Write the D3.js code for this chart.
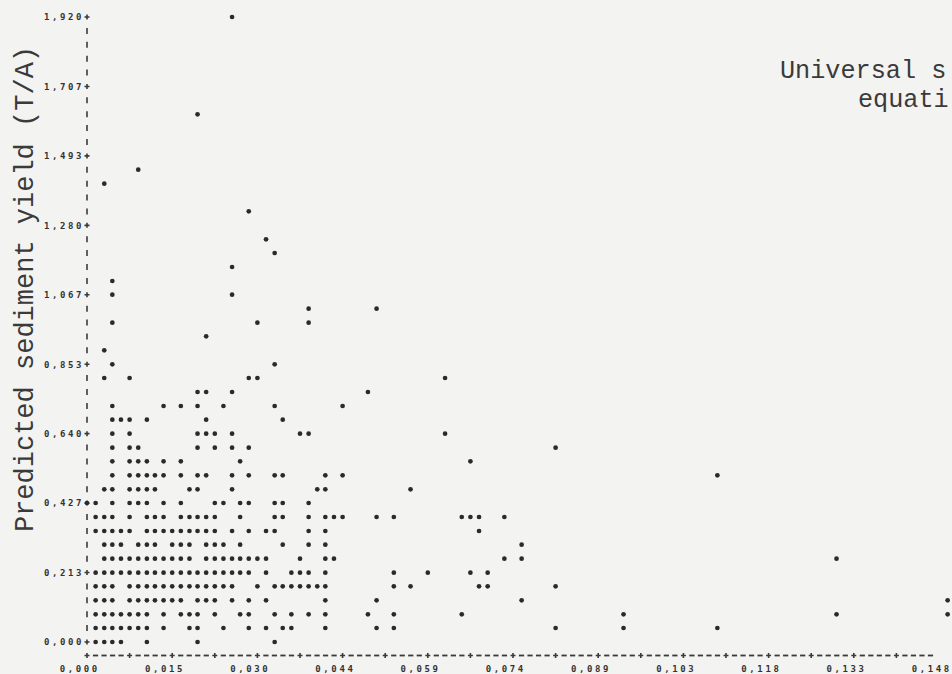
<!DOCTYPE html>
<html>
<head>
<meta charset="utf-8">
<script src="https://cdn.jsdelivr.net/npm/d3@7/dist/d3.min.js"></script>
<style>
  html, body { margin: 0; padding: 0; background: #f3f3f1; }
  svg { display: block; }
</style>
</head>
<body>
<svg id="chart" width="952" height="674"></svg>
<script>
// Axis labels as printed by the line-printer plot
const xTickValues = [0, 0.0148, 0.0296, 0.0444, 0.0592, 0.074, 0.0888, 0.1036, 0.1184, 0.1332, 0.148];
const xTickLabels = ["0,000", "0,015", "0,030", "0,044", "0,059", "0,074", "0,089", "0,103", "0,118", "0,133", "0,148"];
const yTickValues = [1.920, 1.707, 1.493, 1.280, 1.067, 0.853, 0.640, 0.427, 0.213, 0.000];
const yTickLabels = ["1,920", "1,707", "1,493", "1,280", "1,067", "0,853", "0,640", "0,427", "0,213", "0,000"];

const yTitle = "Predicted sediment yield (T/A)";
// heading runs off the right edge of the page: only this much of it is on the sheet
const titleLines = ["Universal s", "equati"];

// Predicted yield (T/A), one value per printed row that holds points
const predictedLevels = [
  1.920, 1.621, 1.451, 1.408, 1.323, 1.237, 1.195, 1.152, 1.109, 1.067,
  1.024, 0.981, 0.939, 0.896, 0.853, 0.811, 0.768, 0.725, 0.683, 0.640,
  0.597, 0.555, 0.512, 0.469, 0.427, 0.384, 0.341, 0.299, 0.256, 0.213,
  0.171, 0.128, 0.085, 0.043, 0.000
];

// Observed values plotted on each of those rows
const observedAtLevel = [
  [0.0252],
  [0.0192],
  [0.0089],
  [0.003],
  [0.0281],
  [0.0311],
  [0.0326],
  [0.0252],
  [0.0044],
  [0.0044, 0.0252],
  [0.0385, 0.0503],
  [0.0044, 0.0296, 0.0385],
  [0.0207],
  [0.003],
  [0.0044, 0.0326],
  [0.003, 0.0074, 0.0281, 0.0296, 0.0622],
  [0.0192, 0.0207, 0.0252, 0.0488],
  [0.0044, 0.0133, 0.0163, 0.0192, 0.0237, 0.0326, 0.0444],
  [0.0044, 0.0059, 0.0074, 0.0104, 0.0207, 0.034],
  [0.0044, 0.0074, 0.0192, 0.0207, 0.0222, 0.0252, 0.037, 0.0385, 0.0622],
  [0.0044, 0.0074, 0.0089, 0.0192, 0.0222, 0.0252, 0.0281, 0.0814],
  [0.0044, 0.0074, 0.0089, 0.0104, 0.0133, 0.0163, 0.0266, 0.0666],
  [0.0044, 0.0074, 0.0089, 0.0104, 0.0118, 0.0133, 0.0163, 0.0192, 0.0207, 0.0252, 0.0281, 0.0326, 0.034, 0.0414, 0.0444, 0.1095],
  [0.003, 0.0044, 0.0074, 0.0089, 0.0104, 0.0118, 0.0178, 0.0192, 0.0252, 0.04, 0.0414, 0.0562],
  [0, 0.0015, 0.0044, 0.0074, 0.0089, 0.0104, 0.0133, 0.0163, 0.0222, 0.0237, 0.0266, 0.0281, 0.0326, 0.034, 0.0385],
  [0.0015, 0.003, 0.0044, 0.0074, 0.0104, 0.0118, 0.0133, 0.0163, 0.0178, 0.0192, 0.0207, 0.0222, 0.0266, 0.0326, 0.034, 0.0385, 0.0414, 0.0429, 0.0444, 0.0503, 0.0533, 0.0651, 0.0666, 0.0681, 0.0725],
  [0.0015, 0.003, 0.0044, 0.0059, 0.0074, 0.0104, 0.0118, 0.0133, 0.0148, 0.0163, 0.0178, 0.0192, 0.0207, 0.0222, 0.0252, 0.0281, 0.0311, 0.0326, 0.0385, 0.0414, 0.0681],
  [0.003, 0.0044, 0.0059, 0.0089, 0.0104, 0.0118, 0.0148, 0.0163, 0.0178, 0.0207, 0.0222, 0.0237, 0.0266, 0.034, 0.0385, 0.0414, 0.0755],
  [0.003, 0.0044, 0.0059, 0.0074, 0.0089, 0.0104, 0.0118, 0.0133, 0.0148, 0.0163, 0.0178, 0.0207, 0.0222, 0.0237, 0.0252, 0.0266, 0.0281, 0.0296, 0.0311, 0.037, 0.0414, 0.0429, 0.0725, 0.0755, 0.1302],
  [0.0015, 0.003, 0.0044, 0.0059, 0.0074, 0.0089, 0.0104, 0.0118, 0.0133, 0.0148, 0.0163, 0.0178, 0.0192, 0.0207, 0.0222, 0.0237, 0.0252, 0.0266, 0.0281, 0.0311, 0.0355, 0.037, 0.0385, 0.0414, 0.0533, 0.0592, 0.0666, 0.0696],
  [0.0015, 0.003, 0.0044, 0.0074, 0.0089, 0.0104, 0.0118, 0.0133, 0.0148, 0.0163, 0.0178, 0.0192, 0.0207, 0.0222, 0.0237, 0.0252, 0.0296, 0.0326, 0.034, 0.0355, 0.037, 0.0385, 0.04, 0.0414, 0.0533, 0.0562, 0.0681, 0.0696, 0.0814],
  [0.0015, 0.003, 0.0044, 0.0074, 0.0089, 0.0104, 0.0118, 0.0133, 0.0148, 0.0163, 0.0192, 0.0207, 0.0222, 0.0252, 0.0281, 0.0311, 0.0414, 0.0503, 0.0755, 0.1495],
  [0.0015, 0.003, 0.0044, 0.0059, 0.0074, 0.0089, 0.0104, 0.0133, 0.0163, 0.0178, 0.0192, 0.0222, 0.0266, 0.0281, 0.0326, 0.0355, 0.0385, 0.0414, 0.0488, 0.0533, 0.0651, 0.0932, 0.1302, 0.1495],
  [0.0015, 0.003, 0.0044, 0.0059, 0.0074, 0.0089, 0.0104, 0.0133, 0.0178, 0.0192, 0.0237, 0.0281, 0.0311, 0.034, 0.0355, 0.0414, 0.0503, 0.0533, 0.0814, 0.0932, 0.1095],
  [0.0015, 0.003, 0.0044, 0.0059, 0.0104, 0.0192, 0.0326]
];

// ---- layout ----
const W = 952, H = 674;
const PRINT_COLS = 100;   // character columns across the x range
const PRINT_ROWS = 45;    // character rows across the y range
const xMax = 0.148, yMax = 1.92;

const ink = "#2a2a2a";
const svg = d3.select("#chart");

svg.append("rect").attr("width", W).attr("height", H).attr("fill", "#f3f3f1");

const x = d3.scaleLinear().domain([0, xMax]).range([87, 939]);
const y = d3.scaleLinear().domain([0, yMax]).range([642, 17]);
const colW = (x.range()[1] - x.range()[0]) / PRINT_COLS;

const points = [];
predictedLevels.forEach((lvl, i) => {
  observedAtLevel[i].forEach(v => points.push({ obs: v, pred: lvl }));
});

// ---- y axis: "|" on every printed row, "+" on labelled rows ----
const axisG = svg.append("g").attr("stroke", "#3a3a3a").attr("fill", "none");
const labelRows = new Set(yTickValues.map(v => Math.round(v / yMax * PRINT_ROWS)));
d3.range(PRINT_ROWS + 1).forEach(r => {
  const cy = y(r * yMax / PRINT_ROWS);
  const cx = x(0);
  if (labelRows.has(r)) {
    axisG.append("path").attr("d", `M${cx - 2.5},${cy}H${cx + 2.5}M${cx},${cy - 2.5}V${cy + 2.5}`).attr("stroke-width", 1.6);
  } else {
    axisG.append("path").attr("d", `M${cx},${cy - 3}V${cy + 3}`).attr("stroke-width", 1.6);
  }
});

// ---- x axis: "+----+----" printed one row below the 0 row ----
const xAxisY = y(0) + 13.5;
d3.range(PRINT_COLS).forEach(c => {
  const cx = x(c * xMax / PRINT_COLS);
  if (c % 5 === 0) {
    axisG.append("path").attr("d", `M${cx - 2.5},${xAxisY}H${cx + 2.5}M${cx},${xAxisY - 2.5}V${xAxisY + 2.5}`).attr("stroke-width", 1.6);
  } else {
    axisG.append("path").attr("d", `M${cx - 2.6},${xAxisY}H${cx + 2.6}`).attr("stroke-width", 1.8);
  }
});

// ---- tick labels ----
const tickFont = "'DejaVu Sans Mono', monospace";
svg.append("g").selectAll("text").data(yTickValues).join("text")
  .attr("x", x(0) - 3)
  .attr("y", d => y(d) + 3.2)
  .attr("text-anchor", "end")
  .attr("font-family", tickFont).attr("font-weight", "bold").attr("font-size", 9)
  .attr("letter-spacing", 2.6)
  .attr("fill", "#333")
  .text((d, i) => yTickLabels[i]);

svg.append("g").selectAll("text").data(xTickValues).join("text")
  .attr("x", d => x(d) - colW + 1.3)
  .attr("y", xAxisY + 16)
  .attr("text-anchor", "middle")
  .attr("font-family", tickFont).attr("font-weight", "bold").attr("font-size", 9)
  .attr("letter-spacing", 2.6)
  .attr("fill", "#333")
  .text((d, i) => xTickLabels[i]);

// ---- points ----
svg.append("g").selectAll("circle").data(points).join("circle")
  .attr("cx", d => x(d.obs))
  .attr("cy", d => y(d.pred))
  .attr("r", 2.35)
  .attr("fill", ink);

// ---- titles ----
const typeFont = "'Liberation Mono', 'Courier New', monospace";
svg.append("text")
  .attr("transform", `translate(33, ${(43 + 535) / 2}) rotate(-90)`)
  .attr("text-anchor", "middle")
  .attr("font-family", typeFont).attr("font-size", 27)
  .attr("fill", "#3a3a3a")
  .text(yTitle);

svg.append("text").attr("x", 780).attr("y", 78)
  .attr("font-family", typeFont).attr("font-size", 25.2).attr("fill", "#3a3a3a")
  .text(titleLines[0]);
svg.append("text").attr("x", 858).attr("y", 107)
  .attr("font-family", typeFont).attr("font-size", 25.2).attr("fill", "#3a3a3a")
  .text(titleLines[1]);
</script>
</body>
</html>
